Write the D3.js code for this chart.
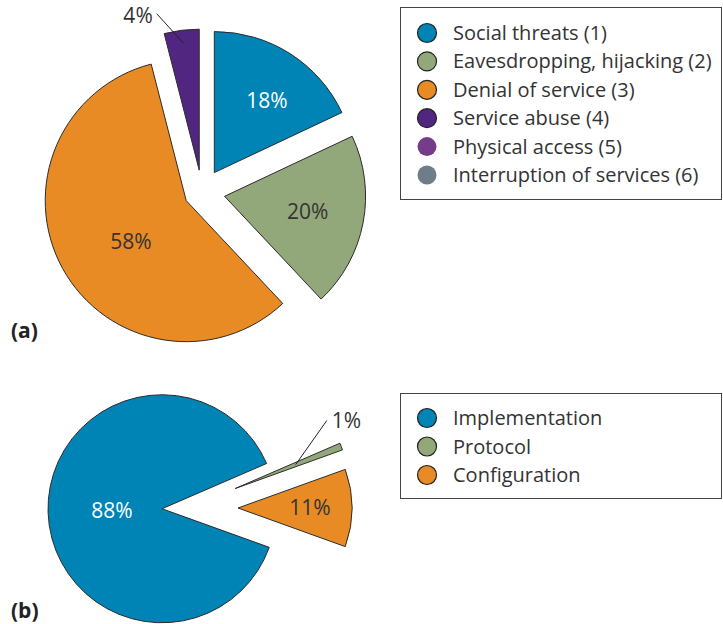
<!DOCTYPE html>
<html>
<head>
<meta charset="utf-8">
<script src="https://cdn.jsdelivr.net/npm/d3@7"></script>
<style>
  body { margin: 0; background: #fff; }
  svg { display: block; font-family: "Open Sans", Lato, sans-serif; }
</style>
</head>
<body>
<svg width="723" height="624"></svg>
<script>
// (a) threats
var threatLabels = ['Social threats (1)', 'Eavesdropping, hijacking (2)', 'Denial of service (3)',
                    'Service abuse (4)', 'Physical access (5)', 'Interruption of services (6)'];
var threatValues = [18, 20, 58, 4, 0, 0];

// (b) vulnerabilities
var vulnLabels = ['Implementation', 'Protocol', 'Configuration'];
var vulnValues = [88, 1, 11];

var threatColors = ['#0083b5', '#93a87a', '#e98b24', '#512681', '#753c8a', '#6e7d88'];
var vulnColors = ['#0083b5', '#93a87a', '#e98b24'];

var svg = d3.select('svg');
var textColor = '#333';
var deg = Math.PI / 180;

function drawPie(opt) {
    var g = svg.append('g')
        .attr('transform', 'translate(' + opt.cx + ',' + opt.cy + ')');

    var pie = d3.pie()
        .sort(null)
        .value((d) => { return d })
        .startAngle(opt.start)
        .endAngle(opt.start + 2 * Math.PI);

    var arcs = pie(opt.values);
    var arc = d3.arc().innerRadius(0).outerRadius(opt.r);

    arcs.forEach((a, i) => {
        if (a.value <= 0) return;
        var mid = (a.startAngle + a.endAngle) / 2;
        var off = opt.explode[i];
        var sg = g.append('g')
            .attr('transform', 'translate(' + (off * Math.sin(mid)) + ',' + (-off * Math.cos(mid)) + ')');

        sg.append('path')
            .attr('d', arc(a))
            .attr('fill', opt.colors[i])
            .attr('stroke', '#2b2b2b')
            .attr('stroke-width', 1)
            .attr('stroke-linejoin', 'miter');

        var lab = opt.labels[i];
        var text = a.value + '%';
        if (lab.outside) {
            var p1 = [opt.r * lab.from * Math.sin(mid), -opt.r * lab.from * Math.cos(mid)];
            var ang = mid + lab.turn * deg;
            var p2 = [opt.r * lab.to * Math.sin(ang), -opt.r * lab.to * Math.cos(ang)];
            sg.append('line')
                .attr('x1', p1[0]).attr('y1', p1[1])
                .attr('x2', p2[0]).attr('y2', p2[1])
                .attr('stroke', '#222')
                .attr('stroke-width', 1);
            sg.append('text')
                .attr('x', p2[0] + lab.dx)
                .attr('y', p2[1] + lab.dy)
                .attr('dy', '0.35em')
                .attr('text-anchor', lab.anchor)
                .attr('font-size', 21)
                .attr('fill', textColor)
                .text(text);
        } else {
            var rr = opt.r * lab.k;
            var ang2 = mid + (lab.turn || 0) * deg;
            sg.append('text')
                .attr('x', rr * Math.sin(ang2))
                .attr('y', -rr * Math.cos(ang2))
                .attr('dy', '0.35em')
                .attr('text-anchor', 'middle')
                .attr('font-size', 21)
                .attr('fill', lab.color)
                .text(text);
        }
    });
}

function drawLegend(x, y, w, h, rowY, step, labels, colors, strokes) {
    var g = svg.append('g');
    g.append('rect')
        .attr('x', x + 0.5).attr('y', y + 0.5)
        .attr('width', w).attr('height', h)
        .attr('fill', 'none')
        .attr('stroke', '#444')
        .attr('stroke-width', 1);

    labels.forEach((l, i) => {
        var cy = rowY + i * step;
        g.append('circle')
            .attr('cx', x + 27).attr('cy', cy)
            .attr('r', 9.5)
            .attr('fill', colors[i])
            .attr('stroke', strokes[i] ? '#222' : 'none')
            .attr('stroke-width', 1.2);
        g.append('text')
            .attr('x', x + 53).attr('y', cy)
            .attr('dy', '0.35em')
            .attr('font-size', 20)
            .attr('fill', textColor)
            .text(l);
    });
}

drawPie({
    cx: 202, cy: 192, r: 141, start: 0,
    values: threatValues, colors: threatColors,
    explode: [23, 23, 18, 22, 0, 0],
    labels: [
        { k: 0.63, turn: 4, color: '#fff' },
        { k: 0.6, color: textColor },
        { k: 0.49, turn: -8, color: textColor },
        { outside: true, from: 0.91, to: 1.15, turn: -8, dx: -4, dy: 2, anchor: 'end' },
        {}, {}
    ]
});

drawPie({
    cx: 186, cy: 508, r: 114, start: 109.8 * deg,
    values: vulnValues, colors: vulnColors,
    explode: [24, 53, 52],
    labels: [
        { k: 0.44, color: '#fff' },
        { outside: true, from: 0.57, to: 1.0, turn: -15, dx: 5, dy: 0, anchor: 'start' },
        { k: 0.63, color: textColor }
    ]
});

drawLegend(400, 7, 321, 192, 33, 28.4, threatLabels, threatColors, [true, true, true, true, false, false]);
drawLegend(400, 393, 321, 105, 418, 28.5, vulnLabels, vulnColors, [true, true, true]);

svg.append('text')
    .attr('x', 11).attr('y', 338)
    .attr('font-size', 21).attr('font-weight', 'bold')
    .attr('fill', '#222')
    .text('(a)');

svg.append('text')
    .attr('x', 11).attr('y', 618)
    .attr('font-size', 21).attr('font-weight', 'bold')
    .attr('fill', '#222')
    .text('(b)');
</script>
</body>
</html>
